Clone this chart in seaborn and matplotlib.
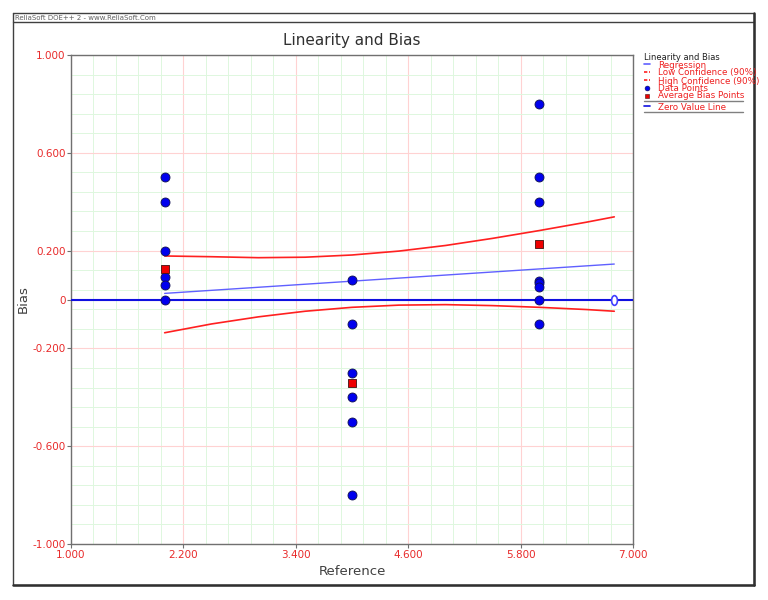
import numpy as np
import pandas as pd
import matplotlib
matplotlib.use("Agg")
import matplotlib.pyplot as plt
from matplotlib.lines import Line2D
from matplotlib.markers import MarkerStyle
from matplotlib.transforms import Affine2D
import seaborn as sns

# data
ref_2 = [2, 2, 2, 2, 2, 2]
bias_2 = [0.5, 0.4, 0.2, 0.09, 0.06, 0.0]
ref_4 = [4, 4, 4, 4, 4, 4]
bias_4 = [0.08, -0.1, -0.3, -0.4, -0.5, -0.8]
ref_6 = [6, 6, 6, 6, 6, 6, 6, 6]
bias_6 = [0.8, 0.5, 0.4, 0.077, 0.066, 0.05, 0.0, -0.1]

avg_ref = [2, 4, 6]
avg_bias = [0.125, -0.34, 0.228]

reg_x = [2.0, 6.8]
reg_y = [0.025, 0.145]

band_x = [2.0, 2.5, 3.0, 3.5, 4.0, 4.5, 5.0, 5.5, 6.0, 6.5, 6.8]
band_high = [0.178, 0.175, 0.171, 0.173, 0.182, 0.198, 0.221, 0.250, 0.282, 0.316, 0.338]
band_low = [-0.136, -0.100, -0.071, -0.048, -0.032, -0.023, -0.021, -0.025, -0.032, -0.041, -0.048]

zero_x = [1.0, 7.0]
zero_y = [0.0, 0.0]

x_ticks = [1.0, 2.2, 3.4, 4.6, 5.8, 7.0]
x_labels = ["1.000", "2.200", "3.400", "4.600", "5.800", "7.000"]
y_ticks = [-1.0, -0.6, -0.2, 0.0, 0.2, 0.6, 1.0]
y_labels = ["-1.000", "-0.600", "-0.200", "0", "0.200", "0.600", "1.000"]

points = pd.DataFrame({"Reference": ref_2 + ref_4 + ref_6,
                       "Bias": bias_2 + bias_4 + bias_6})
avg = pd.DataFrame({"Reference": avg_ref, "Bias": avg_bias})
bands = pd.DataFrame({"x": band_x, "high": band_high, "low": band_low})

sns.set_style("white")
plt.rcParams["font.family"] = ["DejaVu Sans"]

fig = plt.figure(figsize=(7.68, 6.0), dpi=100)
ax = fig.add_axes([71 / 768, 56 / 600, 562 / 768, 489 / 600])

red_txt = "#e82a2a"
ax.set_xlim(1, 7)
ax.set_ylim(-1, 1)
ax.set_xticks(x_ticks)
ax.set_xticklabels(x_labels)
ax.set_yticks(y_ticks)
ax.set_yticklabels(y_labels)
ax.set_xticks(np.arange(1, 7.001, 0.24), minor=True)
ax.set_yticks(np.arange(-1, 1.001, 0.08), minor=True)
ax.tick_params(axis="both", which="major", labelsize=7.5, labelcolor=red_txt,
               color="#707070", length=3, width=0.8, pad=1, direction="out",
               bottom=True, left=True)
ax.tick_params(axis="both", which="minor", length=0)
ax.grid(which="minor", color="#def7de", lw=0.7)
ax.grid(which="major", color="#ffd2d2", lw=0.8)
ax.set_axisbelow(True)
for s in ax.spines.values():
    s.set_color("#707070")
    s.set_linewidth(1.0)

sns.lineplot(x=zero_x, y=zero_y, ax=ax, color="#1010e0", lw=1.5, zorder=3)
sns.lineplot(x=reg_x, y=reg_y, ax=ax, color="#6060ff", lw=1.0, zorder=3)
sns.lineplot(data=bands, x="x", y="high", ax=ax, color="#ff2020", lw=1.2, zorder=3)
sns.lineplot(data=bands, x="x", y="low", ax=ax, color="#ff2020", lw=1.2, zorder=3)
ax.plot([reg_x[-1]], [0], marker=MarkerStyle("o", transform=Affine2D().scale(0.6, 1.0)),
        ms=7, mfc="white", mec="#4040ff", mew=1.2, zorder=4)
sns.scatterplot(data=points, x="Reference", y="Bias", ax=ax, color="#0000ee",
                edgecolor="#101050", linewidth=0.6, s=42, zorder=5)
sns.scatterplot(data=avg, x="Reference", y="Bias", ax=ax, color="#ee0000",
                marker="s", edgecolor="#401010", linewidth=0.6, s=38, zorder=6)

ax.set_xlabel("Reference", fontsize=9.5, color="#404040", labelpad=4)
ax.set_ylabel("Bias", fontsize=9.5, color="#404040")
ax.yaxis.set_label_coords(-0.073, 0.5)
ax.set_title("Linearity and Bias", fontsize=11, color="#303030", pad=7)

# outer frame and header
W, H = 768, 600
fx = lambda px: px / W
fy = lambda py: 1 - py / H
fig.add_artist(Line2D([fx(13), fx(754), fx(754), fx(13), fx(13)],
                      [fy(13), fy(13), fy(585), fy(585), fy(13)],
                      color="#404040", lw=1.0))
fig.add_artist(Line2D([fx(13), fx(754)], [fy(22), fy(22)], color="#404040", lw=1.0))
fig.add_artist(Line2D([fx(754), fx(754)], [fy(13), fy(585)], color="#303030", lw=1.8))
fig.add_artist(Line2D([fx(13), fx(754)], [fy(585), fy(585)], color="#303030", lw=1.8))
fig.text(fx(15), fy(17.5), "ReliaSoft DOE++ 2 - www.ReliaSoft.Com", fontsize=5,
         color="#606060", va="center", ha="left")

# legend
fig.text(fx(644), fy(58), "Linearity and Bias", fontsize=6, color="#202020",
         va="center", ha="left")
entries = [("Regression", 65, "line", "#6060ff"),
           ("Low Confidence (90%)", 73, "dash", "#ff2020"),
           ("High Confidence (90%)", 81, "dash", "#ff2020"),
           ("Data Points", 88, "dot", "#0000ee"),
           ("Average Bias Points", 96, "sq", "#ee0000"),
           ("Zero Value Line", 107, "line", "#1010e0")]
for label, py, kind, col in entries:
    fig.text(fx(658), fy(py), label, fontsize=6.3, color="#ee2020",
             va="center", ha="left")
    if kind in ("line", "dash"):
        fig.add_artist(Line2D([fx(644), fx(650)], [fy(py - 1), fy(py - 1)], color=col,
                              lw=1.2, ls="-" if kind == "line" else (0, (2, 1))))
    elif kind == "dot":
        fig.add_artist(Line2D([fx(647)], [fy(py)], marker="o", ms=3.5, color=col,
                              mec="#101050", mew=0.4))
    else:
        fig.add_artist(Line2D([fx(647)], [fy(py)], marker="s", ms=3.5, color=col,
                              mec="#401010", mew=0.4))
fig.add_artist(Line2D([fx(644), fx(743)], [fy(101), fy(101)], color="#808080", lw=1.0))
fig.add_artist(Line2D([fx(644), fx(743)], [fy(112), fy(112)], color="#808080", lw=1.0))

fig.savefig("out.png", dpi=100, facecolor="white")
